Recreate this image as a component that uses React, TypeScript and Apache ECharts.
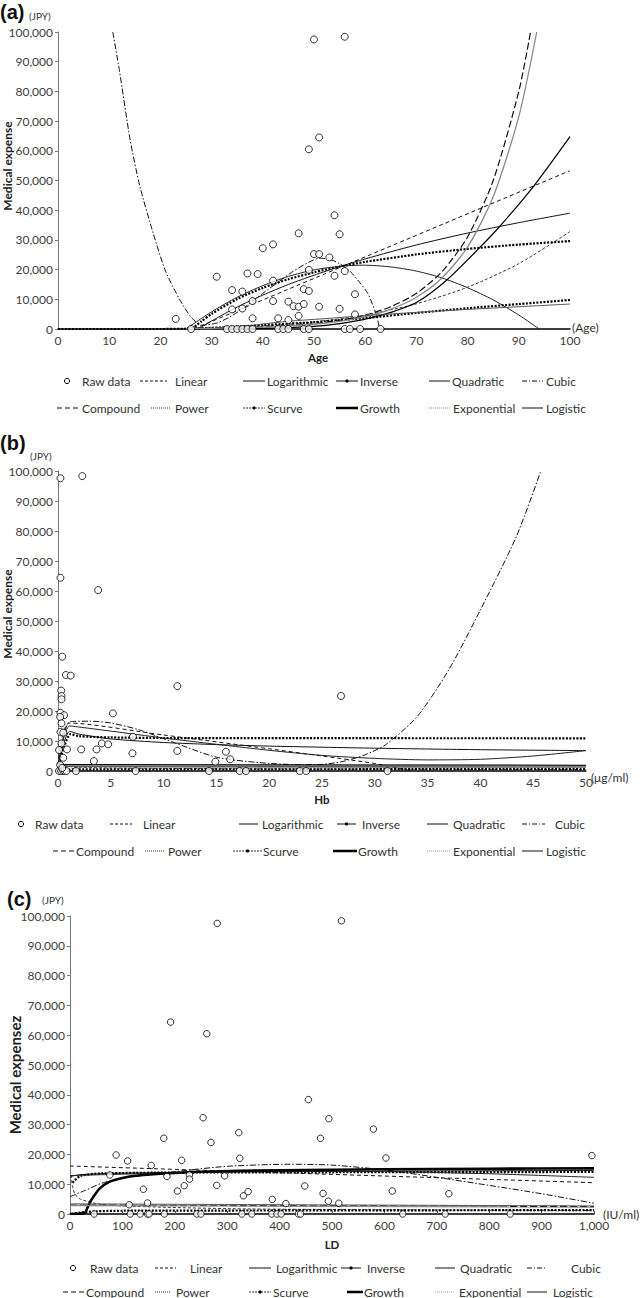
import React, { useEffect, useRef } from "react";
import * as echarts from "echarts";

// ---------- shared ----------
const SERIES_NAMES = [
  "Linear", "Logarithmic", "Inverse", "Quadratic", "Cubic",
  "Compound", "Power", "Scurve", "Growth", "Exponential", "Logistic",
];
const Y_MIN = 0;
const Y_MAX = 100000;
const Y_STEP = 10000;

// ---------- panel (a): Age ----------
const A_X = { min: 0, max: 100, step: 10, unit: "(Age)", title: "Age" };
const A_RAW: number[][] = [
  [23, 3400], [26, 0], [31, 17600], [33, 0], [34, 0], [34, 13100], [34, 6600], [35, 0], [36, 0],
  [36, 12600], [36, 6900], [37, 0], [37, 18700], [38, 0], [38, 9400], [38, 3600], [39, 18500],
  [40, 27200], [42, 28500], [42, 16300], [42, 9400], [43, 3600], [43, 0], [44, 0], [45, 0],
  [45, 9200], [45, 3000], [46, 7700], [47, 7500], [47, 4400], [47, 32200], [48, 13400], [48, 8400],
  [48, 0], [49, 0], [49, 60500], [49, 19900], [49, 12800], [50, 97500], [50, 25200], [51, 25200],
  [51, 64500], [51, 7500], [53, 24100], [54, 38300], [54, 17900], [55, 31900], [55, 6800],
  [56, 98400], [56, 19500], [56, 0], [57, 0], [58, 11700], [58, 4900], [59, 0], [63, 0],
];
const A_LINEAR = [[26.5, 0], [100, 53300]];
const A_LOG = [[27.4, 0], [30, 2700], [35, 7400], [40, 11400], [45, 15000], [50, 18100], [55, 21000], [60, 23600], [70, 28300], [80, 32300], [90, 35800], [100, 39000]];
const A_INVERSE = [[26.2, 0], [28, 2570], [30, 5080], [35, 10080], [40, 13840], [45, 16760], [50, 19090], [55, 21000], [60, 22590], [70, 25100], [80, 26970], [90, 28430], [100, 29600]];
const A_QUAD = [[25, 0], [30, 5800], [35, 10700], [40, 14600], [45, 17700], [50, 19900], [55, 21100], [59.5, 21500], [65, 20900], [70, 19500], [75, 17200], [80, 13900], [85, 9800], [90, 4700], [94, 0]];
const A_CUBIC = [[10.7, 100000], [12, 87000], [14.1, 63600], [16, 48000], [18.6, 32200], [21, 19500], [23.8, 9800], [26, 4000], [28, 1300], [31, 2000], [34, 4500], [37, 8000], [40, 12000], [43, 15800], [46, 19500], [49, 22500], [51, 23800], [53, 23500], [55, 22000], [57, 19500], [59, 15500], [60.5, 12000], [61.5, 8000], [62.3, 4000], [62.8, 0]];
const A_COMPOUND = [[25, 170], [30, 270], [40, 700], [50, 1800], [55, 2900], [60, 4650], [65, 7500], [70, 12000], [75, 19300], [80, 31000], [85, 50000], [90, 80000], [92.3, 100000]];
const A_POWER = [[25, 170], [30, 340], [40, 1020], [50, 2370], [60, 4730], [70, 8490], [80, 14070], [90, 22000], [100, 32800]];
const A_SCURVE = [[0, 0], [20, 0], [25, 100], [30, 400], [35, 800], [40, 1300], [45, 1800], [50, 2300], [55, 3000], [60, 3700], [70, 5400], [80, 7000], [90, 8400], [100, 9760]];
const A_GROWTH = [[30, 0], [40, 200], [50, 900], [55, 1800], [60, 3300], [65, 5600], [70, 8900], [76, 16600], [82.3, 27300], [86.3, 34600], [93, 48300], [100, 64750]];
const A_EXPONENTIAL = [[25, 140], [30, 240], [40, 620], [50, 1600], [55, 2600], [60, 4150], [65, 6700], [70, 10700], [75, 17200], [80, 27600], [85, 44500], [90, 71500], [93.5, 100000]];
const A_LOGISTIC = [[33, 0], [36, 800], [40, 1700], [45, 2600], [53, 3600], [60, 4500], [70, 5600], [80, 6600], [90, 7500], [100, 8400]];

// ---------- panel (b): Hb ----------
const B_X = { min: 0, max: 50, step: 5, unit: "(\u03bcg/ml)", title: "Hb" };
const B_RAW: number[][] = [
  [0.23, 97600], [2.3, 98300], [0.23, 64400], [3.8, 60300], [0.4, 38100], [0.75, 32000], [1.2, 31800],
  [0.3, 26800], [0.33, 25000], [0.33, 23900], [11.3, 28300], [5.2, 19200], [0.23, 19400], [0.57, 18600],
  [0.2, 18000], [0.33, 15900], [0.23, 13000], [0.5, 12800], [0.33, 9200], [0.1, 7000], [0.85, 7200],
  [2.2, 7200], [3.65, 7200], [4.15, 9200], [4.75, 8900], [7.1, 11400], [7.05, 5900], [11.3, 6700],
  [15.9, 6400], [16.3, 3900], [14.9, 3100], [3.4, 3300], [0.5, 4400], [0.1, 0], [0.3, 0], [0.5, 0],
  [0.65, 0], [0.8, 0], [1.7, 0], [7.35, 0], [14.3, 0], [17.2, 0], [17.8, 0], [22.9, 0], [23.5, 0],
  [26.8, 25000], [31.2, 0], [0.2, 2000], [0.4, 1000],
];
const B_LINEAR = [[0, 2000], [1.1, 16000], [10, 12000], [20, 7400], [25, 5000], [30, 2500], [33.5, 0]];
const B_LOG = [[0, 2000], [1.1, 13200], [2, 12300], [5, 10700], [10, 9500], [15, 8800], [20, 8300], [30, 7600], [40, 7100], [50, 6800]];
const B_INVERSE = [[0, 1000], [1.2, 12300], [2, 11600], [5, 11200], [10, 11000], [20, 10950], [50, 10900]];
const B_QUAD = [[0, 2000], [1.1, 15000], [3, 14200], [5, 13300], [10, 11000], [15, 8900], [20, 6900], [25, 5200], [30, 4200], [35, 3700], [40, 3900], [45, 5000], [50, 6800]];
const B_CUBIC = [[0, 2000], [1.1, 16400], [3, 16600], [5, 16000], [7.7, 13700], [11.2, 9200], [15, 4600], [19, 2800], [23, 2100], [25, 2200], [27, 3200], [29, 5300], [31, 8700], [34, 18100], [37, 33700], [40, 53700], [43.4, 78100], [45.7, 99800]];
const B_COMPOUND = [[0, 1800], [50, 1600]];
const B_POWER = [[0.05, 4500], [0.3, 2500], [1, 1500], [5, 1000], [20, 700], [50, 500]];
const B_SCURVE = [[0, 0], [0.5, 400], [2, 550], [50, 600]];
const B_GROWTH = [[0, 1900], [50, 1700]];
const B_EXPONENTIAL = [[0, 1750], [50, 1550]];
const B_LOGISTIC = [[0, 4000], [0.7, 1800], [2, 1400], [50, 1250]];

// ---------- panel (c): LD ----------
const C_X = { min: 0, max: 1000, step: 100, unit: "(IU/ml)", title: "LD" };
const C_RAW: number[][] = [
  [281, 97500], [518, 98400], [192, 64400], [261, 60500], [455, 38400], [494, 32000], [254, 32300],
  [478, 25400], [579, 28500], [179, 25400], [269, 24000], [322, 27300], [324, 18700], [603, 18800],
  [996, 19600], [88, 19800], [110, 17800], [155, 16300], [213, 18000], [76, 13100], [185, 12600],
  [228, 13100], [228, 11700], [218, 9500], [205, 7700], [295, 12800], [280, 9600], [140, 8300],
  [331, 6100], [340, 7500], [386, 4900], [412, 3500], [448, 9400], [483, 6900], [493, 4300],
  [513, 3600], [113, 3100], [148, 3700], [615, 7700], [723, 6800], [46, 0], [115, 0], [134, 0],
  [148, 0], [151, 0], [180, 0], [242, 0], [250, 0], [328, 0], [347, 0], [385, 0], [395, 0], [403, 0],
  [436, 0], [440, 0], [635, 0], [716, 0], [840, 0],
];
const C_LINEAR = [[0, 16100], [1000, 10500]];
const C_LOG = [[1, 12600], [20, 13200], [100, 13700], [300, 14100], [600, 14400], [1000, 14600]];
const C_INVERSE = [[5, 10500], [20, 12800], [60, 13600], [200, 13900], [1000, 14100]];
const C_QUAD = [[0, 12900], [200, 13800], [400, 14300], [600, 14200], [800, 13500], [1000, 12300]];
const C_CUBIC = [[0, 5800], [30, 8000], [60, 10300], [100, 12000], [200, 14200], [300, 16000], [420, 16700], [500, 16400], [600, 14800], [700, 12300], [800, 9600], [900, 6800], [1000, 3600]];
const C_COMPOUND = [[0, 3000], [1000, 2500]];
const C_POWER = [[2, 13000], [5, 9000], [10, 6500], [20, 5000], [50, 3500], [100, 2700], [300, 1800], [600, 1400], [1000, 1200]];
const C_SCURVE = [[3, 0], [20, 500], [50, 900], [100, 1100], [1000, 1300]];
const C_GROWTH = [[0, 0], [28, 300], [32, 1600], [38, 3900], [45, 5900], [57, 8600], [75, 10800], [100, 12100], [130, 12900], [180, 13600], [250, 14200], [400, 14700], [600, 15000], [800, 15200], [1000, 15300]];
const C_EXPONENTIAL = [[0, 2800], [1000, 2350]];
const C_LOGISTIC = [[0, 3400], [1000, 2700]];

const PANELS = [
  { x: A_X, raw: A_RAW, curves: [A_LINEAR, A_LOG, A_INVERSE, A_QUAD, A_CUBIC, A_COMPOUND, A_POWER, A_SCURVE, A_GROWTH, A_EXPONENTIAL, A_LOGISTIC] },
  { x: B_X, raw: B_RAW, curves: [B_LINEAR, B_LOG, B_INVERSE, B_QUAD, B_CUBIC, B_COMPOUND, B_POWER, B_SCURVE, B_GROWTH, B_EXPONENTIAL, B_LOGISTIC] },
  { x: C_X, raw: C_RAW, curves: [C_LINEAR, C_LOG, C_INVERSE, C_QUAD, C_CUBIC, C_COMPOUND, C_POWER, C_SCURVE, C_GROWTH, C_EXPONENTIAL, C_LOGISTIC] },
];

// ---------- layout & styles ----------
const FONT = "Lato";
const GRIDS = [
  { left: 58, top: 32, width: 512, height: 297 },
  { left: 58, top: 471, width: 528, height: 300 },
  { left: 70, top: 916, width: 524, height: 298 },
];
const GROWTH_W = [1.2, 2.4, 2.6];

const LINE_STYLES: Record<string, any> = {
  Linear: { color: "#111", width: 1, type: [4, 3] },
  Logarithmic: { color: "#111", width: 1, type: "solid" },
  Inverse: { color: "#000", width: 2.2, type: [2, 1.5] },
  Quadratic: { color: "#222", width: 1, type: "solid" },
  Cubic: { color: "#111", width: 1, type: [6, 2, 1.5, 2] },
  Compound: { color: "#111", width: 1.2, type: [7, 3] },
  Power: { color: "#222", width: 0.9, type: [3, 2] },
  Scurve: { color: "#000", width: 2.2, type: [2, 1.5] },
  Growth: { color: "#000", width: 2, type: "solid" },
  Exponential: { color: "#8a8a8a", width: 1.3, type: "solid" },
  Logistic: { color: "#555", width: 1, type: "solid" },
};

// legend layouts: [name, lineX1, lineX2, textX]
const LEGEND_LAYOUT = [
  {
    rows: [381, 408],
    raw: [67, 82],
    row1: [["Linear", 140, 167, 175], ["Logarithmic", 243, 265, 267], ["Inverse", 336, 358, 360], ["Quadratic", 429, 450, 452], ["Cubic", 522, 543, 546]],
    row2: [["Compound", 57, 81, 82], ["Power", 151, 171, 175], ["Scurve", 243, 265, 267], ["Growth", 336, 358, 360], ["Exponential", 429, 450, 453], ["Logistic", 522, 543, 546]],
  },
  {
    rows: [824, 851],
    raw: [21, 35],
    row1: [["Linear", 110, 132, 143], ["Logarithmic", 239, 258, 262], ["Inverse", 337, 356, 362], ["Quadratic", 427, 448, 453], ["Cubic", 522, 545, 555]],
    row2: [["Compound", 53, 74, 76], ["Power", 145, 165, 168], ["Scurve", 233, 262, 263], ["Growth", 333, 357, 358], ["Exponential", 427, 450, 453], ["Logistic", 522, 543, 546]],
  },
  {
    rows: [1268, 1292],
    raw: [73, 90],
    row1: [["Linear", 155, 176, 190], ["Logarithmic", 249, 271, 276], ["Inverse", 341, 361, 367], ["Quadratic", 435, 455, 460], ["Cubic", 527, 547, 571]],
    row2: [["Compound", 63, 84, 86], ["Power", 155, 171, 176], ["Scurve", 249, 271, 273], ["Growth", 347, 363, 364], ["Exponential", 435, 455, 459], ["Logistic", 527, 547, 553]],
  },
];

const LEGEND_ICON: Record<string, any> = {
  Linear: { stroke: "#111", lineWidth: 1, lineDash: [3, 2] },
  Logarithmic: { stroke: "#111", lineWidth: 1 },
  Inverse: { stroke: "#111", lineWidth: 1, dot: true },
  Quadratic: { stroke: "#111", lineWidth: 1 },
  Cubic: { stroke: "#111", lineWidth: 1, lineDash: [5, 2, 1, 2] },
  Compound: { stroke: "#111", lineWidth: 1.2, lineDash: [5, 3] },
  Power: { stroke: "#333", lineWidth: 1, lineDash: [1, 1] },
  Scurve: { stroke: "#333", lineWidth: 1, lineDash: [2, 1], dot: true },
  Growth: { stroke: "#000", lineWidth: 2.5 },
  Exponential: { stroke: "#999", lineWidth: 1, lineDash: [1, 1] },
  Logistic: { stroke: "#111", lineWidth: 1 },
};

const TEXTS = [
  { tag: "(a)", tagX: 0, tagY: 12, jpyX: 29, jpyY: 16, yName: "Medical expense", yNameX: 7, yNameY: 166, yNameSize: 12, titleX: 318, titleY: 357, unitX: 572, unitY: 327 },
  { tag: "(b)", tagX: 0, tagY: 443, jpyX: 30, jpyY: 456, yName: "Medical expense", yNameX: 7, yNameY: 614, yNameSize: 12, titleX: 322, titleY: 799, unitX: 591, unitY: 777 },
  { tag: "(c)", tagX: 7, tagY: 899, jpyX: 42, jpyY: 900, yName: "Medical expensez", yNameX: 15, yNameY: 1075, yNameSize: 15, titleX: 332, titleY: 1244, unitX: 603, unitY: 1214 },
];

function txt(x: number, y: number, text: string, size: number, opts: any = {}) {
  return {
    type: "text",
    x,
    y,
    rotation: opts.rotation || 0,
    silent: true,
    style: {
      text,
      fill: opts.fill || "#222",
      fontSize: size,
      fontWeight: opts.bold ? "bold" : "normal",
      fontFamily: opts.family || FONT,
      textAlign: opts.align || "left",
      align: opts.align || "left",
      textVerticalAlign: "middle",
      verticalAlign: "middle",
    },
  };
}

function buildGraphics() {
  const g: any[] = [];
  TEXTS.forEach((t, i) => {
    g.push(txt(t.tagX, t.tagY, t.tag, 20, { bold: true, family: "Liberation Sans", fill: "#111" }));
    g.push(txt(t.jpyX, t.jpyY, "(JPY)", 10, { fill: "#333" }));
    g.push(txt(t.yNameX, t.yNameY, t.yName, t.yNameSize, { bold: true, rotation: Math.PI / 2, align: "center", fill: "#222" }));
    g.push(txt(t.titleX, t.titleY, PANELS[i].x.title, 11.5, { bold: true, align: "center" }));
    g.push(txt(t.unitX, t.unitY, PANELS[i].x.unit, 12, { fill: "#333" }));
  });
  LEGEND_LAYOUT.forEach((L) => {
    const [y1, y2] = L.rows;
    g.push({ type: "circle", silent: true, shape: { cx: L.raw[0], cy: y1, r: 2.6 }, style: { fill: "#fff", stroke: "#000", lineWidth: 1 } });
    g.push(txt(L.raw[1], y1, "Raw data", 12, { fill: "#333" }));
    const rows: [any[], number][] = [[L.row1, y1], [L.row2, y2]];
    rows.forEach(([items, y]) => {
      items.forEach((it: any) => {
        const [name, x1, x2, tx] = it;
        const s = LEGEND_ICON[name];
        g.push({ type: "line", silent: true, shape: { x1, y1: y, x2, y2: y }, style: { stroke: s.stroke, lineWidth: s.lineWidth, lineDash: s.lineDash || null } });
        if (s.dot) g.push({ type: "circle", silent: true, shape: { cx: (x1 + x2) / 2, cy: y, r: 1.6 }, style: { fill: "#000" } });
        g.push(txt(tx, y, name, 12, { fill: "#333" }));
      });
    });
  });
  return g;
}

const fmt = (v: number) => v.toLocaleString("en-US");

function buildOption() {
  const grid = GRIDS.map((gr) => ({ ...gr, containLabel: false }));
  const xAxis = PANELS.map((p, i) => ({
    gridIndex: i,
    type: "value",
    min: p.x.min,
    max: p.x.max,
    interval: p.x.step,
    axisLine: { onZero: false, lineStyle: { color: "#000", width: 1.5 } },
    axisTick: { show: i === 2, inside: true, length: 3, lineStyle: { color: "#555" } },
    axisLabel: { formatter: fmt, fontSize: 12, color: "#404040", margin: 5, fontFamily: FONT },
    splitLine: { show: false },
  }));
  const yAxis = PANELS.map((_, i) => ({
    gridIndex: i,
    type: "value",
    min: Y_MIN,
    max: Y_MAX,
    interval: Y_STEP,
    axisLine: { show: true, lineStyle: { color: "#777", width: 1 } },
    axisTick: { show: true, length: 3, lineStyle: { color: "#777" } },
    axisLabel: { formatter: fmt, fontSize: 12, color: "#404040", margin: 5, fontFamily: FONT },
    splitLine: { show: false },
  }));
  const series: any[] = [];
  PANELS.forEach((p, i) => {
    p.curves.forEach((data, k) => {
      const name = SERIES_NAMES[k];
      const ls = { ...LINE_STYLES[name] };
      if (name === "Growth") ls.width = GROWTH_W[i];
      series.push({
        type: "line",
        name,
        xAxisIndex: i,
        yAxisIndex: i,
        data,
        symbol: "none",
        showSymbol: false,
        smooth: 0.25,
        clip: true,
        silent: true,
        z: 2,
        lineStyle: ls,
      });
    });
    series.push({
      type: "scatter",
      name: "Raw data",
      xAxisIndex: i,
      yAxisIndex: i,
      data: p.raw,
      symbol: "circle",
      symbolSize: i === 2 ? 6.5 : 7,
      silent: true,
      z: 4,
      itemStyle: { color: "#fff", borderColor: "#000", borderWidth: 1 },
    });
  });
  return {
    animation: false,
    backgroundColor: "#fff",
    textStyle: { fontFamily: FONT },
    grid,
    xAxis,
    yAxis,
    series,
    graphic: buildGraphics(),
  };
}

export default function App() {
  const ref = useRef<HTMLDivElement>(null);
  useEffect(() => {
    document.body.style.margin = "0";
    if (!ref.current) return;
    const chart = echarts.init(ref.current, undefined, { renderer: "svg" });
    chart.setOption(buildOption() as any);
    return () => chart.dispose();
  }, []);
  return <div ref={ref} style={{ width: 640, height: 1298, background: "#fff" }} />;
}
